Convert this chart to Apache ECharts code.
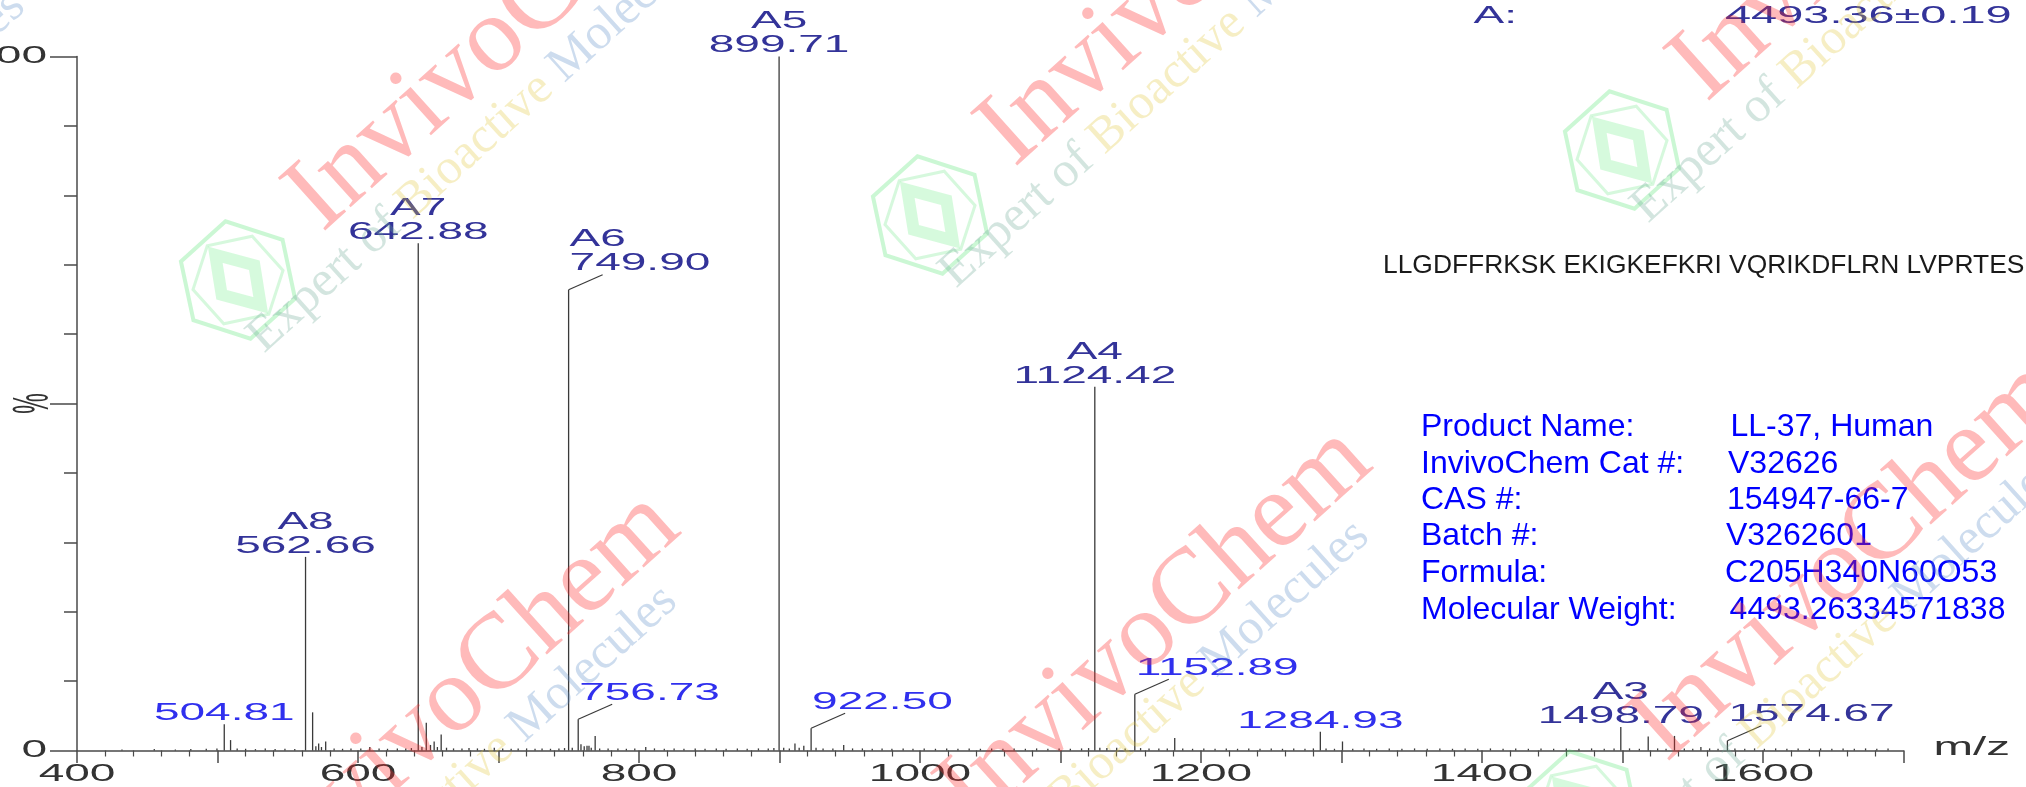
<!DOCTYPE html>
<html><head><meta charset="utf-8">
<script src="https://cdn.jsdelivr.net/npm/echarts@6.0.0/dist/echarts.min.js"></script>
<style>html,body{margin:0;padding:0;background:#fff;overflow:hidden}#c{width:2026px;height:787px}</style>
</head><body><div id="c"></div>
<script>
// ---------- DATA ----------
// labelled peaks (m/z, relative intensity %)
const labelMz   = [504.81, 562.66, 642.88, 749.90, 756.73, 899.71, 922.50, 1124.42, 1152.89, 1284.93, 1498.79, 1574.67];
const labelInt  = [3.8, 27.9, 73.1, 66.4, 4.5, 100, 3.2, 52.4, 8.1, 2.7, 3.4, 1.4];
const labelName = ['', 'A8', 'A7', 'A6', '', 'A5', '', 'A4', '', '', 'A3', ''];
// smaller unlabelled peaks
const minorMz  = [509.3, 567.7, 570.0, 572.0, 574.0, 577.0, 608.4, 645.5, 648.6, 651.6, 654.2, 656.5, 659.2, 697.0, 752.5, 758.7, 761.0, 763.0, 764.4, 766.0, 768.8, 804.8, 903.0, 911.0, 914.0, 917.3, 926.0, 945.7, 1128.0, 1140.0, 1157.0, 1181.3, 1300.7, 1518.3, 1537.0, 1555.8];
const minorInt = [1.5, 5.5, 0.6, 1.0, 0.5, 1.3, 0.5, 0.5, 4.0, 0.8, 1.3, 0.5, 2.3, 0.4, 0.4, 0.9, 0.6, 0.7, 0.7, 0.4, 2.1, 0.5, 0.4, 1.0, 0.4, 0.7, 0.4, 0.8, 0.4, 0.4, 0.35, 1.8, 1.3, 2.0, 2.1, 0.5];
// baseline noise
const noiseMz  = [432, 455, 470, 481, 492, 499.6, 514, 520, 527, 534, 541, 548, 555, 583, 589, 595, 602, 615, 621, 628, 634, 638, 663, 668, 674, 679, 685, 690, 703, 709, 714, 720, 726, 731, 737, 743, 747, 772, 778, 785, 791, 797, 811, 818, 825, 832, 840, 847, 855, 862, 870, 877, 885, 892, 896, 907, 931, 938, 952, 959, 966, 973, 980, 988, 995, 1003, 1011, 1019, 1027, 1035, 1043, 1051, 1059, 1067, 1075, 1083, 1091, 1099, 1107, 1115, 1120, 1133, 1146, 1163, 1170, 1176, 1187, 1194, 1202, 1210, 1218, 1226, 1234, 1242, 1250, 1258, 1266, 1274, 1280, 1289, 1295, 1308, 1316, 1325, 1334, 1343, 1352, 1361, 1370, 1379, 1388, 1397, 1406, 1415, 1424, 1433, 1442, 1451, 1460, 1469, 1478, 1487, 1494, 1505, 1512, 1525, 1531, 1544, 1550, 1562, 1568, 1580, 1587, 1594, 1601, 1609, 1617, 1625, 1633, 1641, 1649, 1657, 1665, 1673, 1681, 1689];
const noiseInt = [0.15, 0.2, 0.15, 0.2, 0.25, 0.3, 0.3, 0.25, 0.2, 0.3, 0.2, 0.25, 0.2, 0.3, 0.25, 0.3, 0.3, 0.3, 0.25, 0.3, 0.3, 0.35, 0.4, 0.3, 0.3, 0.35, 0.3, 0.25, 0.3, 0.25, 0.3, 0.3, 0.25, 0.3, 0.25, 0.3, 0.35, 0.3, 0.3, 0.3, 0.25, 0.3, 0.3, 0.25, 0.3, 0.25, 0.3, 0.25, 0.3, 0.25, 0.3, 0.25, 0.3, 0.3, 0.35, 0.3, 0.3, 0.3, 0.3, 0.3, 0.25, 0.3, 0.25, 0.3, 0.25, 0.3, 0.25, 0.3, 0.25, 0.3, 0.25, 0.3, 0.25, 0.3, 0.25, 0.3, 0.25, 0.3, 0.25, 0.3, 0.35, 0.35, 0.3, 0.3, 0.3, 0.3, 0.3, 0.25, 0.3, 0.25, 0.3, 0.25, 0.3, 0.25, 0.3, 0.25, 0.3, 0.25, 0.3, 0.3, 0.25, 0.25, 0.3, 0.25, 0.3, 0.25, 0.3, 0.25, 0.3, 0.25, 0.3, 0.25, 0.3, 0.25, 0.3, 0.25, 0.3, 0.25, 0.3, 0.25, 0.3, 0.25, 0.3, 0.3, 0.25, 0.3, 0.25, 0.3, 0.25, 0.3, 0.25, 0.3, 0.25, 0.3, 0.25, 0.3, 0.25, 0.3, 0.25, 0.3, 0.25, 0.3, 0.25, 0.3, 0.25, 0.3, 0.25, 0.2];
// axis tick labels
const xTickLabels = [400, 600, 800, 1000, 1200, 1400, 1600];
const yTickLabels = [0, 100];
// texts
const massKey = 'A:';
const massValue = '4493.36±0.19';
const sequence = 'LLGDFFRKSK EKIGKEFKRI VQRIKDFLRN LVPRTES';
const infoKeys = ['Product Name:', 'InvivoChem Cat #:', 'CAS #:', 'Batch #:', 'Formula:', 'Molecular Weight:'];
const infoValues = ['LL-37, Human', 'V32626', '154947-66-7', 'V3262601', 'C205H340N60O53', '4493.26334571838'];

// ---------- STYLE ----------
const NAVY = '#333399', BRIGHT = '#3030ee', INK = '#333333', AXIS = '#4a4a4a';
const SANS = '"Liberation Sans", Arial, sans-serif';
const SERIF = '"Liberation Serif", "Times New Roman", serif';
const leaderIdx = [3, 4, 6, 8, 11];
const navyIdx = [11];   // unnamed label drawn in the darker colour

const sticks = [];
labelMz.forEach((m, i) => sticks.push([m, labelInt[i]]));
minorMz.forEach((m, i) => sticks.push([m, minorInt[i]]));
noiseMz.forEach((m, i) => sticks.push([m, noiseInt[i]]));
const labels = labelMz.map((m, i) => [m, labelInt[i]]);

function renderStick(params, api) {
  const top = api.coord([api.value(0), api.value(1)]);
  const base = api.coord([api.value(0), 0]);
  return {type: 'line', shape: {x1: top[0], y1: top[1], x2: base[0], y2: base[1]},
          style: {stroke: '#3a3a3a', lineWidth: 1.3}};
}
function renderLabel(params, api) {
  const i = params.dataIndex;
  const p = api.coord([api.value(0), api.value(1)]);
  const name = labelName[i];
  const txt = labelMz[i].toFixed(2);
  const children = [];
  let ax, ay, align;
  if (leaderIdx.indexOf(i) >= 0) {
    children.push({type: 'polyline', shape: {points: [[p[0], p[1]], [p[0] + 34, p[1] - 15]]},
                   style: {stroke: '#3a3a3a', lineWidth: 1.2, fill: null}});
    ax = p[0] + 1; ay = p[1] - 14; align = 'left';
  } else {
    ax = p[0]; ay = p[1] + 1.5; align = 'center';
  }
  const color = (name || navyIdx.indexOf(i) >= 0) ? NAVY : BRIGHT;
  children.push({type: 'text', x: ax, y: ay, scaleX: 2,
    style: {text: name ? name + '\n' + txt : txt, fill: color,
            font: '23px ' + SANS, align: align, verticalAlign: 'bottom', lineHeight: 24}});
  return {type: 'group', children: children};
}

const chart = echarts.init(document.getElementById('c'), null, {renderer: 'canvas'});
const axisLineStyle = {color: AXIS, width: 1.5};
chart.setOption({
  animation: false,
  backgroundColor: '#ffffff',
  grid: {left: 77, right: 122.5, top: 56.5, bottom: 36.5, containLabel: false, outerBoundsMode: 'none'},
  xAxis: {
    type: 'value', min: 400, max: 1700, interval: 100,
    axisLine: {show: true, lineStyle: axisLineStyle},
    axisTick: {show: true, length: 12.5, lineStyle: axisLineStyle},
    minorTick: {show: true, splitNumber: 5, length: 6, lineStyle: {color: AXIS, width: 1.2}},
    splitLine: {show: false}, minorSplitLine: {show: false},
    axisLabel: {show: false}
  },
  yAxis: [
    {type: 'value', min: 0, max: 100, interval: 10, position: 'left',
     axisLine: {show: true, lineStyle: axisLineStyle},
     axisTick: {show: true, length: 13, lineStyle: axisLineStyle},
     axisLabel: {show: false}, splitLine: {show: false}},
    {type: 'value', min: 0, max: 100, interval: 50, position: 'left',
     axisLine: {show: false},
     axisTick: {show: true, length: 27, lineStyle: axisLineStyle},
     axisLabel: {show: false}, splitLine: {show: false}}
  ],
  series: [
    {type: 'custom', name: 'spectrum', coordinateSystem: 'cartesian2d', xAxisIndex: 0, yAxisIndex: 0,
     data: sticks, encode: {x: 0, y: 1}, renderItem: renderStick, clip: false, silent: true, z: 2},
    {type: 'custom', name: 'peak labels', coordinateSystem: 'cartesian2d', xAxisIndex: 0, yAxisIndex: 0,
     data: labels, encode: {x: 0, y: 1}, renderItem: renderLabel, clip: false, silent: true, z: 3}
  ]
});

// ---------- annotations (positions taken from the chart's own scales) ----------
const px = v => chart.convertToPixel({xAxisIndex: 0}, v);
const py = v => chart.convertToPixel({yAxisIndex: 0}, v);
const x0 = px(400), xEnd = px(1700), y0 = py(0), y50 = py(50);

const g = [];
// stretched tick labels (the original spectrum export is stretched 2x horizontally)
xTickLabels.forEach(v => g.push({type: 'text', x: px(v), y: y0 + 24, scaleX: 2, silent: true,
  style: {text: String(v), font: '23px ' + SANS, fill: INK, align: 'center', verticalAlign: 'middle'}}));
yTickLabels.forEach(v => g.push({type: 'text', x: x0 - 30, y: py(v), scaleX: 2, silent: true,
  style: {text: String(v), font: '23px ' + SANS, fill: INK, align: 'right', verticalAlign: 'middle'}}));
// y axis name (%), rotated and stretched like the original
g.push({type: 'text', x: x0 - 43, y: y50, rotation: Math.PI / 2, scaleY: 2.2, silent: true,
        style: {text: '%', font: '23px ' + SANS, fill: INK, align: 'center', verticalAlign: 'middle'}});
// x axis name
g.push({type: 'text', x: xEnd + 30, y: y0 - 2, scaleX: 1.9, silent: true,
        style: {text: 'm/z', font: '25px ' + SANS, fill: INK, align: 'left', verticalAlign: 'middle'}});
// mass result
g.push({type: 'text', x: 1473.6, y: 16.5, scaleX: 2, silent: true,
        style: {text: massKey, font: '23px ' + SANS, fill: NAVY, align: 'left', verticalAlign: 'middle'}});
g.push({type: 'text', x: 1725, y: 16.5, scaleX: 2.04, silent: true,
        style: {text: massValue, font: '23px ' + SANS, fill: NAVY, align: 'left', verticalAlign: 'middle'}});
// sequence
g.push({type: 'text', x: 1383, y: 266, silent: true,
        style: {text: sequence, font: '26.4px ' + SANS, fill: '#1a1a1a', align: 'left', verticalAlign: 'middle'}});
// info block
const infoY = [427, 464, 500, 536.5, 573, 610.5];
const infoVX = [1730.5, 1728, 1727, 1726, 1725, 1729.6];
infoKeys.forEach((k, i) => {
  g.push({type: 'text', x: 1421, y: infoY[i], silent: true,
          style: {text: k, font: '32px ' + SANS, fill: '#0000ff', align: 'left', verticalAlign: 'middle'}});
  g.push({type: 'text', x: infoVX[i], y: infoY[i], silent: true,
          style: {text: infoValues[i], font: '32px ' + SANS, fill: '#0000ff', align: 'left', verticalAlign: 'middle'}});
});

// watermark tiles
const ANG = 42 * Math.PI / 180;
function hexPts(r, rot) {
  const pts = [];
  for (let k = 0; k < 6; k++) { const a = rot + k * Math.PI / 3; pts.push([r * Math.cos(a), r * Math.sin(a)]); }
  return pts;
}
function watermark(Lx, Ly) {
  return {type: 'group', x: Lx, y: Ly, rotation: ANG, silent: true, z: 100, children: [
    {type: 'polygon', shape: {points: hexPts(60, 0)}, style: {fill: null, stroke: 'rgba(70,225,100,0.28)', lineWidth: 4}, z: 100},
    {type: 'polygon', shape: {points: hexPts(46, Math.PI / 6)}, style: {fill: null, stroke: 'rgba(70,225,100,0.22)', lineWidth: 3}, z: 100},
    {type: 'polygon', shape: {points: [[0, -34], [22, 0], [0, 34], [-22, 0]]}, style: {fill: null, stroke: 'rgba(70,230,100,0.22)', lineWidth: 12}, z: 100},
    {type: 'text', x: 94, y: -7, z: 100,
     style: {text: 'InvivoChem', font: '108px ' + SERIF, fill: 'rgba(255,40,40,0.32)', align: 'left', verticalAlign: 'middle'}},
    {type: 'text', x: -30, y: 59, z: 100,
     style: {text: '{a|Expert of }{b|Bioactive }{c|Molecules}', font: '50px ' + SERIF, align: 'left', verticalAlign: 'middle',
             rich: {a: {fill: 'rgba(110,170,150,0.30)', font: '50px ' + SERIF},
                    b: {fill: 'rgba(225,200,60,0.30)', font: '50px ' + SERIF},
                    c: {fill: 'rgba(90,140,200,0.30)', font: '50px ' + SERIF}}}}
  ]};
}
for (let i = -1; i <= 3; i++) {
  for (let j = 0; j <= 1; j++) {
    g.push(watermark(238 + 692 * i - 40 * j, 280 - 65 * i + 660 * j));
  }
}
chart.setOption({graphic: g});
</script>
</body></html>
